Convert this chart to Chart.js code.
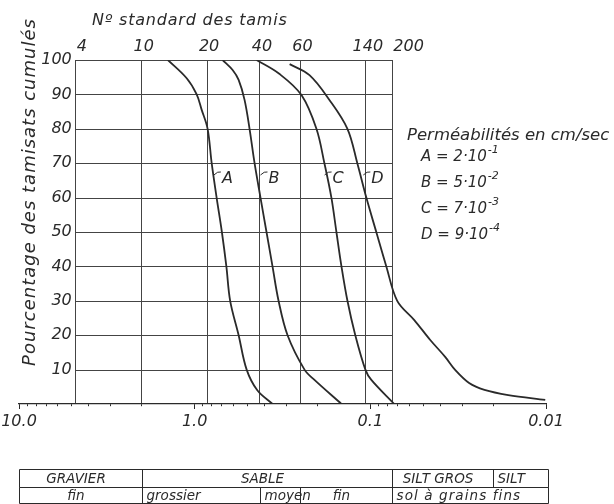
<!DOCTYPE html>
<html lang="fr">
<head>
<meta charset="utf-8">
<title>Courbes granulométriques</title>
<script src="https://cdn.jsdelivr.net/npm/chart.js@4"></script>
<style>
  html, body { margin: 0; padding: 0; background: #fff; }
  #wrap { width: 614px; height: 504px; }
</style>
</head>
<body>
<div id="wrap"><canvas id="graphique" width="614" height="504"></canvas></div>
<script>
// --- Données ---
// diamètre des grains (mm) / pourcentage des tamisats cumulés
const diamA = [1.42, 1.11, 0.974, 0.912, 0.844, 0.80, 0.75, 0.70, 0.66, 0.628, 0.562, 0.506, 0.44, 0.36];
const pctA  = [100, 94.7, 90, 85.5, 80, 70, 60, 50, 40, 30, 20, 10, 4, 0];

const diamB = [0.693, 0.608, 0.562, 0.52, 0.487, 0.456, 0.422, 0.390, 0.3605, 0.333, 0.296, 0.237, 0.208, 0.146];
const pctB  = [100, 97.1, 94.2, 88.4, 80, 70, 60, 50, 40, 30, 20, 10, 7, 0];

const diamC = [0.444, 0.33, 0.2466, 0.2027, 0.1826, 0.1666, 0.156, 0.146, 0.135, 0.1218, 0.1067, 0.0987, 0.0731];
const pctC  = [100, 96, 89.8, 80, 70, 60, 50, 40, 30, 20, 10, 7, 0];

const diamD = [0.288, 0.222, 0.171, 0.135, 0.1186, 0.1054, 0.0925, 0.0811, 0.0703, 0.0562, 0.0456, 0.0375, 0.0329, 0.0274, 0.0224, 0.0164, 0.0101];
const pctD  = [98.8, 95.6, 88.4, 80, 70, 60, 50, 40, 30, 24.4, 18.6, 13.7, 9.9, 6.1, 4.1, 2.6, 1.2];

const curveNames = ['A', 'B', 'C', 'D'];
const curveLabelDiam = [0.70, 0.38, 0.164, 0.0987];   // position des lettres sur le graphique
const curveLabelPct = 65.7;

// tamis standard (ouverture en mm) et leur numéro
const sieveSizes = [4.75, 2.0, 0.85, 0.425, 0.25, 0.106, 0.075];
const sieveNumbers = ['4', '10', '20', '40', '60', '140', '200'];

const pctTicks = [10, 20, 30, 40, 50, 60, 70, 80, 90, 100];
const decadeValues = [10, 1, 0.1, 0.01];
const decadeLabels = ['10.0', '1.0', '0.1', '0.01'];

// perméabilités
const permMantissa = ['2', '5', '7', '9'];
const permExponent = ['-1', '-2', '-3', '-4'];

// tableau de classification (limites en mm)
const classRow1 = ['GRAVIER', 'SABLE', 'SILT GROS', 'SILT'];
const classRow1Edges = [10, 2, 0.075, 0.02, 0.0097];
const classRow2 = ['fin', 'grossier', 'moyen', 'fin', 'sol à grains fins'];
const classRow2Edges = [10, 2, 0.425, 0.25, 0.075, 0.0097];

// --- Style ---
const FONT = '"DejaVu Sans", sans-serif';
const INK = '#2a2a2a';
const GRID = '#444';
const fontIt = (size) => 'italic ' + size + 'px ' + FONT;

// graduations mineures de l'axe des diamètres
const bottomTicks = [];
[-2, -1, 0].forEach(e => {
    for (let m = 1; m <= 9; m++) bottomTicks.push(parseFloat((m * Math.pow(10, e)).toPrecision(3)));
});
bottomTicks.push(10);
const isDecade = (v) => Math.abs(Math.log10(v) - Math.round(Math.log10(v))) < 1e-9;

const curves = [
    { diam: diamA, pct: pctA },
    { diam: diamB, pct: pctB },
    { diam: diamC, pct: pctC },
    { diam: diamD, pct: pctD }
];

// --- Plugin: quadrillage horizontal, textes et tableau ---
const annotations = {
    id: 'annotations',
    beforeDatasetsDraw(chart) {
        const { ctx } = chart;
        const xs = chart.scales.tamis;
        const ys = chart.scales.y;
        const left = xs.getPixelForValue(sieveSizes[0]);
        const right = xs.getPixelForValue(sieveSizes[sieveSizes.length - 1]);
        ctx.save();
        ctx.strokeStyle = GRID;
        ctx.lineWidth = 1;
        pctTicks.forEach(v => {
            const py = Math.round(ys.getPixelForValue(v)) + 0.5;
            ctx.beginPath();
            ctx.moveTo(left, py);
            ctx.lineTo(right, py);
            ctx.stroke();
        });
        ctx.restore();
    },
    afterDraw(chart) {
        const { ctx } = chart;
        const xs = chart.scales.x;
        const top = chart.scales.tamis;
        const ys = chart.scales.y;
        const gridLeft = top.getPixelForValue(sieveSizes[0]);

        ctx.save();
        ctx.fillStyle = INK;
        ctx.strokeStyle = INK;
        ctx.textBaseline = 'middle';

        // numéros des tamis (premier et dernier alignés à gauche du trait)
        ctx.font = fontIt(16);
        sieveSizes.forEach((s, i) => {
            const px = top.getPixelForValue(s);
            const edge = i === 0 || i === sieveSizes.length - 1;
            ctx.textAlign = edge ? 'left' : 'center';
            ctx.fillText(sieveNumbers[i], edge ? px + 1 : px + 2, 47);
        });

        // étiquettes de l'axe vertical
        ctx.textAlign = 'right';
        pctTicks.forEach(v => ctx.fillText(String(v), gridLeft - 4, ys.getPixelForValue(v)));

        // titre vertical
        ctx.save();
        ctx.translate(30, 192);
        ctx.rotate(-Math.PI / 2);
        ctx.font = fontIt(18);
        ctx.letterSpacing = '1px';
        ctx.textAlign = 'center';
        ctx.fillText('Pourcentage des tamisats cumulés', 0, 0);
        ctx.restore();

        // titre du haut
        ctx.save();
        ctx.textAlign = 'left';
        ctx.letterSpacing = '0.8px';
        ctx.fillText('Nº standard des tamis', 92, 21);
        ctx.restore();

        // lettres A..D sur les courbes
        ctx.textAlign = 'left';
        ctx.lineWidth = 1;
        curveNames.forEach((n, i) => {
            const px = xs.getPixelForValue(curveLabelDiam[i]);
            const py = ys.getPixelForValue(curveLabelPct);
            ctx.beginPath();
            ctx.moveTo(px - 8, py - 3);
            ctx.quadraticCurveTo(px - 4, py - 7, px - 1, py - 6);
            ctx.stroke();
            ctx.fillText(n, px, py + 1);
        });

        // perméabilités
        ctx.font = fontIt(16.5);
        ctx.fillText('Perméabilités en cm/sec', 407, 136);
        curveNames.forEach((n, i) => {
            const py = 157 + i * 26;
            const base = n + ' = ' + permMantissa[i] + '·10';
            ctx.font = fontIt(15);
            ctx.fillText(base, 421, py);
            const w = ctx.measureText(base).width;
            ctx.font = fontIt(11);
            ctx.fillText(permExponent[i], 421 + w + 1, py - 7);
        });

        // tableau de classification
        const rowTop = [469, 487];
        const rowBot = [487, 503];
        const rows = [[classRow1, classRow1Edges], [classRow2, classRow2Edges]];
        const aligns = [['center', 'center', 'center', 'left'], ['center', 'left', 'left', 'center', 'left']];
        const spacing = [['0px', '0px', '0px', '0px'], ['0px', '0px', '0px', '0px', '1.1px']];
        ctx.lineWidth = 1;
        ctx.font = fontIt(13.5);
        rows.forEach(([labels, edges], r) => {
            const y0 = rowTop[r] + 0.5, y1 = rowBot[r] + 0.5;
            const px = edges.map(e => Math.round(xs.getPixelForValue(e)) + 0.5);
            ctx.beginPath();
            ctx.moveTo(px[0], y0); ctx.lineTo(px[px.length - 1], y0);
            ctx.moveTo(px[0], y1); ctx.lineTo(px[px.length - 1], y1);
            px.forEach(p => { ctx.moveTo(p, y0); ctx.lineTo(p, y1); });
            ctx.stroke();
            labels.forEach((t, i) => {
                const a = aligns[r][i];
                ctx.textAlign = a;
                ctx.letterSpacing = spacing[r][i];
                const tx = a === 'left' ? px[i] + 4 : (px[i] + px[i + 1]) / 2 - 5;
                ctx.fillText(t, tx, (y0 + y1) / 2 + 1);
            });
        });
        ctx.restore();
    }
};

// --- Graphique ---
new Chart(document.getElementById('graphique'), {
    type: 'line',
    data: {
        datasets: curves.map((c, i) => ({
            label: curveNames[i],
            data: c.diam.map((d, k) => ({ x: d, y: c.pct[k] })),
            borderColor: INK,
            borderWidth: 1.8,
            pointRadius: 0,
            fill: false,
            tension: 0.35,
            xAxisID: 'x',
            yAxisID: 'y'
        }))
    },
    options: {
        responsive: false,
        animation: false,
        devicePixelRatio: 1,
        layout: { padding: { left: 19, right: 68, top: 0, bottom: 0 } },
        plugins: {
            legend: { display: false },
            tooltip: { enabled: false }
        },
        scales: {
            x: {
                type: 'logarithmic',
                position: 'bottom',
                min: 0.01,
                max: 10,
                reverse: true,
                afterBuildTicks: (s) => { s.ticks = bottomTicks.map(v => ({ value: v, major: isDecade(v) })); },
                afterFit: (s) => { s.height = 100; },
                ticks: {
                    autoSkip: false,
                    maxRotation: 0,
                    padding: 3,
                    color: INK,
                    font: { family: FONT, size: 16, style: 'italic' },
                    callback: (v) => {
                        const i = decadeValues.findIndex(d => Math.abs(d - v) < 1e-9);
                        return i >= 0 ? decadeLabels[i] : '';
                    }
                },
                grid: {
                    drawOnChartArea: false,
                    drawTicks: true,
                    tickLength: 5,
                    tickColor: INK,
                    tickWidth: 1,
                    tickBorderDash: (c) => (c.tick && c.tick.major ? [] : [2, 20])
                },
                border: { display: true, color: INK, width: 1.2 }
            },
            tamis: {
                type: 'logarithmic',
                position: 'top',
                min: 0.01,
                max: 10,
                reverse: true,
                afterBuildTicks: (s) => { s.ticks = sieveSizes.map(v => ({ value: v })); },
                afterFit: (s) => { s.height = 60; },
                ticks: { display: false },
                grid: { drawTicks: false, color: GRID, lineWidth: 1 },
                border: { display: false }
            },
            y: {
                display: false,
                min: 0,
                max: 100
            }
        }
    },
    plugins: [annotations]
});
</script>
</body>
</html>
